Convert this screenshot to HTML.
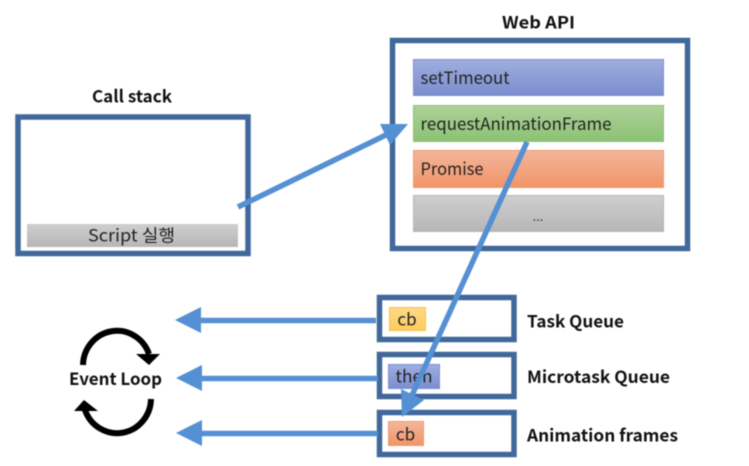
<!DOCTYPE html>
<html>
<head>
<meta charset="utf-8">
<style>
html,body{margin:0;padding:0;background:#fff;}
body{width:749px;height:466px;overflow:hidden;}
svg{display:block;filter:blur(0.5px);}
text{font-family:"Noto Sans CJK KR","Liberation Sans",sans-serif;fill:#222;}
.b{font-weight:700;font-size:17px;fill:#111;}
.n{font-size:17px;fill:#222;}
</style>
</head>
<body>
<svg width="749" height="466" viewBox="0 0 749 466" xmlns="http://www.w3.org/2000/svg">
<defs>
<linearGradient id="gGray" x1="0" y1="0" x2="0" y2="1"><stop offset="0" stop-color="#cfcfcf"/><stop offset="1" stop-color="#b6b6b6"/></linearGradient>
<linearGradient id="gBlue" x1="0" y1="0" x2="0" y2="1"><stop offset="0" stop-color="#a0aede"/><stop offset="1" stop-color="#7a8dcf"/></linearGradient>
<linearGradient id="gGreen" x1="0" y1="0" x2="0" y2="1"><stop offset="0" stop-color="#aed19a"/><stop offset="1" stop-color="#8cc274"/></linearGradient>
<linearGradient id="gOrange" x1="0" y1="0" x2="0" y2="1"><stop offset="0" stop-color="#f3b69b"/><stop offset="1" stop-color="#f29468"/></linearGradient>
<linearGradient id="gYellow" x1="0" y1="0" x2="0" y2="1"><stop offset="0" stop-color="#fed98a"/><stop offset="1" stop-color="#fdcb5e"/></linearGradient>
</defs>

<!-- Call stack -->
<text class="b" x="92" y="102.500" textLength="80" lengthAdjust="spacingAndGlyphs">Call stack</text>
<rect x="18" y="117" width="230" height="136.500" fill="#fff" stroke="#41689a" stroke-width="5.500"/>
<rect x="27" y="224" width="211" height="23" fill="url(#gGray)"/>
<text class="n" x="88" y="241.500" textLength="87" lengthAdjust="spacingAndGlyphs">Script 실행</text>

<!-- Web API -->
<text class="b" x="502" y="28.500" textLength="73" lengthAdjust="spacingAndGlyphs">Web API</text>
<rect x="392.500" y="40.500" width="295" height="208" fill="#fff" stroke="#41689a" stroke-width="5.500"/>
<rect x="413.500" y="59.500" width="250" height="36" fill="url(#gBlue)" stroke="#7a90d6"/>
<text class="n" x="420.500" y="84" textLength="89" lengthAdjust="spacingAndGlyphs">setTimeout</text>
<rect x="413.500" y="105.500" width="250" height="36" fill="url(#gGreen)" stroke="#8cc274"/>
<text class="n" x="420.500" y="130" textLength="191" lengthAdjust="spacingAndGlyphs">requestAnimationFrame</text>
<rect x="413.500" y="150.500" width="250" height="37" fill="url(#gOrange)" stroke="#f29a6c"/>
<text class="n" x="420.500" y="175" textLength="63" lengthAdjust="spacingAndGlyphs">Promise</text>
<rect x="413.500" y="195.500" width="250" height="36" fill="url(#gGray)" stroke="#b5b5b5"/>
<text x="538" y="221" text-anchor="middle" style="font-size:13px;fill:#444">...</text>

<!-- Queues -->
<rect x="379.500" y="297.500" width="134.500" height="42" fill="#fff" stroke="#41689a" stroke-width="5.500"/>
<rect x="379.500" y="354.500" width="134.500" height="42" fill="#fff" stroke="#41689a" stroke-width="5.500"/>
<rect x="379.500" y="412.500" width="134.500" height="42" fill="#fff" stroke="#41689a" stroke-width="5.500"/>
<rect x="389.500" y="307.500" width="36" height="23" fill="url(#gYellow)" stroke="#fcc63c"/>
<text class="n" x="407" y="325.500" text-anchor="middle">cb</text>
<rect x="388.500" y="364.500" width="51" height="24" fill="url(#gBlue)" stroke="#7a90d6"/>
<text class="n" x="395.500" y="382.500" textLength="37" lengthAdjust="spacingAndGlyphs">then</text>
<rect x="388.500" y="421.500" width="35" height="24" fill="url(#gOrange)" stroke="#f29a6c"/>
<text class="n" x="405.500" y="440.500" text-anchor="middle">cb</text>

<text class="b" x="527" y="327.500" textLength="97" lengthAdjust="spacingAndGlyphs">Task Queue</text>
<text class="b" x="527" y="383" textLength="143" lengthAdjust="spacingAndGlyphs">Microtask Queue</text>
<text class="b" x="527" y="441.500" textLength="151" lengthAdjust="spacingAndGlyphs">Animation frames</text>

<!-- Blue connectors -->
<g fill="#5490d3" stroke="none">
<line x1="238" y1="207" x2="390" y2="133" stroke="#5490d3" stroke-width="5.500"/>
<polygon points="408,124 380,124 390,145"/>
<line x1="527" y1="142" x2="408" y2="404" stroke="#5490d3" stroke-width="5.500"/>
<polygon points="402,417 401,389 424,400"/>
<line x1="376" y1="320.500" x2="198" y2="320.500" stroke="#5490d3" stroke-width="5.500"/>
<polygon points="175,320 201,307 201,333"/>
<line x1="378" y1="378.500" x2="198" y2="378.500" stroke="#5490d3" stroke-width="5.500"/>
<polygon points="176,378 202,365 202,391"/>
<line x1="378" y1="433.500" x2="198" y2="433.500" stroke="#5490d3" stroke-width="5.500"/>
<polygon points="176,433 202,420 202,446"/>
</g>

<!-- Event Loop -->
<text class="b" x="69" y="385" textLength="93" lengthAdjust="spacingAndGlyphs">Event Loop</text>
<g fill="none" stroke="#000" stroke-width="6">
<path d="M83 365 A34 35 0 0 1 149 354"/>
<path d="M151 399 A34 35 0 0 1 85 410"/>
</g>
<polygon points="136,354 160,354 149,365" fill="#000"/>
<polygon points="74,411 98,411 84,400" fill="#000"/>
</svg>
</body>
</html>
